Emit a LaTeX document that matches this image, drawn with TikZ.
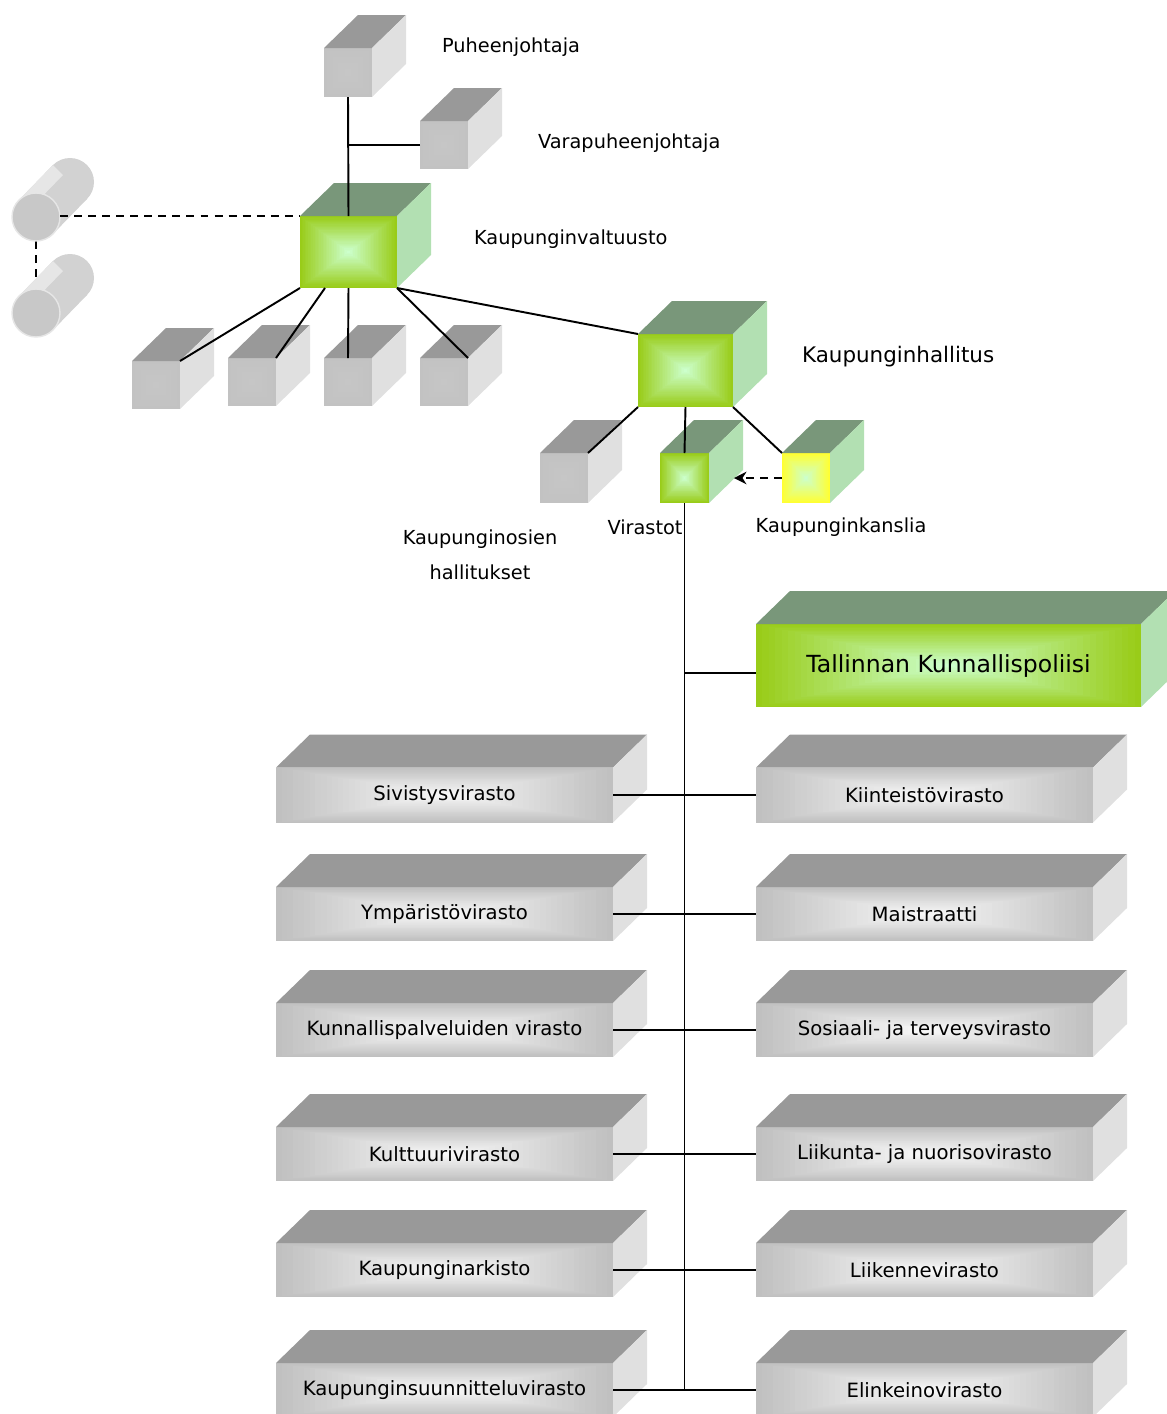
\documentclass[tikz,border=0pt]{standalone}
\usepackage{fontspec}
\newfontfamily\labelfont{DejaVu Sans}
\usetikzlibrary{arrows.meta,calc,backgrounds}
\definecolor{greytop}{HTML}{999999}
\definecolor{greyside}{HTML}{E0E0E0}
\definecolor{greyedge}{HTML}{C2C2C2}
\definecolor{greymid}{HTML}{C6C6C6}
\definecolor{flatedge}{HTML}{C0C0C0}
\definecolor{flatmid}{HTML}{F8F8F8}
\definecolor{greentop}{HTML}{79977A}
\definecolor{greenside}{HTML}{B2E0B2}
\definecolor{greenedge}{HTML}{99CC19}
\definecolor{greenmid}{HTML}{CCFFCC}
\definecolor{yellowedge}{HTML}{FFFF33}
\definecolor{cyllight}{HTML}{E6E6E6}
\definecolor{cylside}{HTML}{D2D2D2}
\definecolor{cylfront}{HTML}{C8C8C8}
\colorlet{flattop}{greytop}
\colorlet{flatside}{greyside}
\colorlet{yellowtop}{greentop}
\colorlet{yellowside}{greenside}
\colorlet{yellowmid}{greenmid}
\tikzset{
  face/.style={inner sep=0pt, outer sep=0pt},
  greyface/.style={face},
  flatface/.style={face, font=\labelfont\fontsize{11.2pt}{13pt}\selectfont},
  greenface/.style={face},
  yellowface/.style={face},
  lbl/.style={font=\labelfont\fontsize{11pt}{13pt}\selectfont, inner sep=1pt},
  big/.style={font=\labelfont\fontsize{13.4pt}{16pt}\selectfont},
  link/.style={line width=1.1pt},
  dash link/.style={line width=1.1pt, dash pattern=on 4.5pt off 3.5pt}
}
% [options] name, x, y, width, height, family, text
\newcommand{\block}[8][]{%
  \foreach \i in {0,...,29}{
    \pgfmathtruncatemacro\mixpct{\i*100/29}
    \fill[#7mid!\mixpct!#7edge] (#3-#5/2+#5*\i/60, #4-#6/2+#6*\i/60) rectangle (#3+#5/2-#5*\i/60, #4+#6/2-#6*\i/60);
  }
  \node[#7face, minimum width=#5*0.02cm, minimum height=#6*0.02cm, #1] (#2) at (#3,#4) {#8};
  \fill[#7top] (#2.north west) -- ++(34,-33) -- ([shift={(34,-33)}]#2.north east) -- (#2.north east) -- cycle;
  \fill[#7side] (#2.north east) -- ++(34,-33) -- ([shift={(34,-33)}]#2.south east) -- (#2.south east) -- cycle;
}
% name, x, y
\newcommand{\drum}[3]{%
  \fill[cylside] (#2+17,#3+17) -- (#2+51,#3-18) -- (#2+17,#3-52) -- (#2-17,#3-17) -- cycle;
  \fill[cylside] (#2+34,#3-35) circle[radius=24];
  \fill[cyllight] (#2-17,#3-17) -- (#2+17,#3-52) -- (#2+27,#3-42) -- (#2-7,#3-7) -- cycle;
  \node[circle, inner sep=0pt, outer sep=0pt, minimum size=0.96cm, fill=cylfront, draw=cyllight, line width=0.8pt] (#1) at (#2,#3) {};
}

\begin{document}
\begin{tikzpicture}[x=0.02cm, y=-0.02cm]
  \clip (0,0) rectangle (1167,1414);

  % valtuusto
  \block{puh}{348}{72.5}{48}{49}{grey}{}
  \block{vara}{444}{145}{48}{48}{grey}{}
  \block{valt}{348.5}{252}{97}{72}{green}{}
  \block{jasen1}{156}{385}{48}{48}{grey}{}
  \block{jasen2}{252}{382}{48}{48}{grey}{}
  \block{jasen3}{348}{382}{48}{48}{grey}{}
  \block{jasen4}{444}{382}{48}{48}{grey}{}
  \drum{kom1}{36}{217}
  \drum{kom2}{36}{313}

  % hallitus
  \block{hall}{685.5}{370.5}{95}{73}{green}{}
  \block{osat}{564}{478}{48}{50}{grey}{}
  \block{viras}{684.5}{478}{49}{50}{green}{}
  \block{kans}{806}{478}{48}{50}{yellow}{}
  \block[big]{poli}{948.5}{665.5}{385}{83}{green}{Tallinnan Kunnallispoliisi}

  % virastot
  \block{sivi}{444.5}{795}{337}{55}{flat}{Sivistysvirasto}
  \block{kiin}{924.5}{795}{337}{55}{flat}{Kiinteistövirasto}
  \block{ymp}{444.5}{914}{337}{54}{flat}{Ympäristövirasto}
  \block{mais}{924.5}{914}{337}{54}{flat}{Maistraatti}
  \block{kunn}{444.5}{1030}{337}{54}{flat}{Kunnallispalveluiden virasto}
  \block{sos}{924.5}{1030}{337}{54}{flat}{Sosiaali- ja terveysvirasto}
  \block{kult}{444.5}{1154}{337}{54}{flat}{Kulttuurivirasto}
  \block{liik}{924.5}{1154}{337}{54}{flat}{Liikunta- ja nuorisovirasto}
  \block{ark}{444.5}{1270}{337}{54}{flat}{Kaupunginarkisto}
  \block{liiken}{924.5}{1270}{337}{54}{flat}{Liikennevirasto}
  \block{suunn}{444.5}{1390}{337}{54}{flat}{Kaupunginsuunnitteluvirasto}
  \block{elin}{924.5}{1390}{337}{54}{flat}{Elinkeinovirasto}

  % labels
  \node[lbl, anchor=west] (lpuh) at (440,47) {Puheenjohtaja};
  \node[lbl, anchor=west] (lvara) at (536,143) {Varapuheenjohtaja};
  \node[lbl, anchor=west] (lvalt) at (472,239) {Kaupunginvaltuusto};
  \node[lbl, font=\labelfont\fontsize{12.2pt}{14pt}\selectfont, anchor=west] (lhall) at (800,357) {Kaupunginhallitus};
  \node[lbl, align=center] (losat) at (480,555) {Kaupunginosien\\[7pt]hallitukset};
  \node[lbl] (lviras) at (645,527) {Virastot};
  \node[lbl] (lkans) at (841,527) {Kaupunginkanslia};

  % connectors
  \draw[link] (puh.south) -- (valt.north);
  \draw[link] (vara.west) -- (vara.west -| puh.south);
  \draw[dash link] (kom1.east |- valt.north west) -- (valt.north west);
  \begin{pgfonlayer}{background}
    \draw[dash link] (kom1.south) -- (kom2.center);
  \end{pgfonlayer}
  \draw[link] (valt.south west) -- (jasen1.north east);
  \draw[link] ([xshift=0.5cm]valt.south west) -- (jasen2.north east);
  \draw[link] (valt.south) -- (jasen3.north);
  \draw[link] (valt.south east) -- (jasen4.north east);
  \draw[link] (valt.south east) -- (hall.north west);
  \draw[link] (hall.south west) -- (osat.north east);
  \draw[link] (hall.south) -- (viras.north);
  \draw[link] (hall.south east) -- (kans.north west);
  \draw[dash link, -{Stealth[length=0.25cm, width=0.25cm]}] (kans.west) -- ([xshift=0.5cm]viras.east);
  \draw[link] (viras.south) -- (viras.south |- suunn.east);
  \draw[link] ([yshift=-0.15cm]viras.south |- poli.west) -- ([yshift=-0.15cm]poli.west);
  \draw[link] (sivi.east) -- (kiin.west);
  \draw[link] (ymp.east) -- (mais.west);
  \draw[link] (kunn.east) -- (sos.west);
  \draw[link] (kult.east) -- (liik.west);
  \draw[link] (ark.east) -- (liiken.west);
  \draw[link] (suunn.east) -- (elin.west);
\end{tikzpicture}
\end{document}
